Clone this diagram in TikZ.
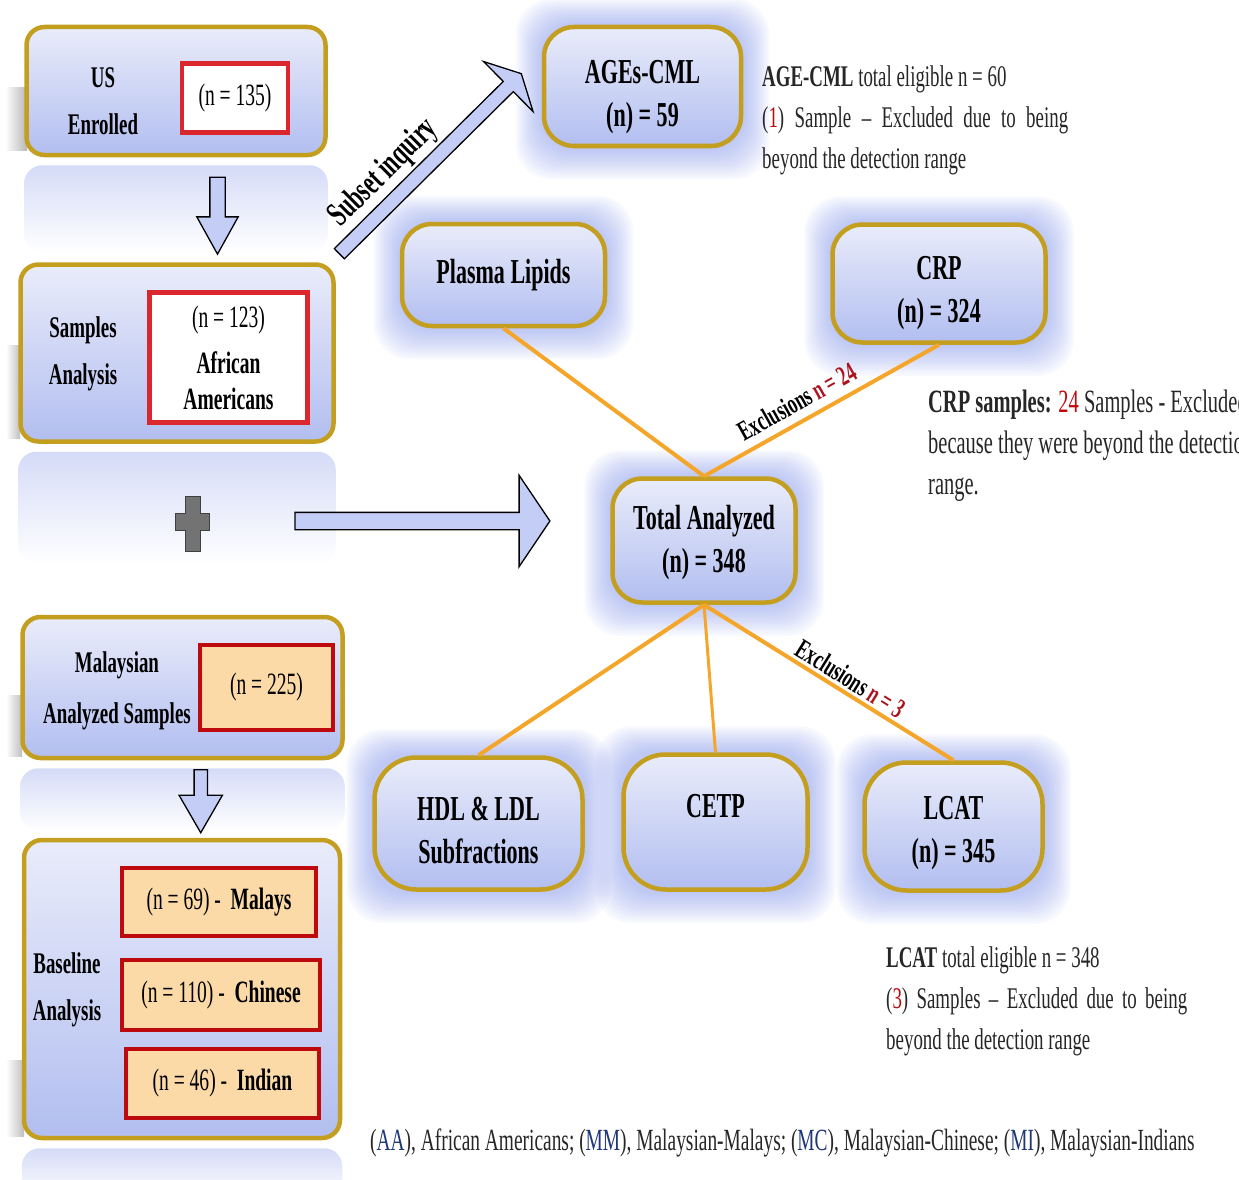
\documentclass[tikz,border=0pt]{standalone}
\usepackage{fontspec}
\setmainfont{Liberation Serif}[FakeStretch=0.63]
\usetikzlibrary{positioning}
\usetikzlibrary{calc}
\usetikzlibrary{shapes.arrows}
\usetikzlibrary{backgrounds}

\definecolor{lavtop}{RGB}{233,236,250}
\definecolor{lavbot}{RGB}{178,190,240}
\definecolor{goldline}{RGB}{196,158,30}
\definecolor{boxred}{RGB}{220,38,46}
\definecolor{darkred}{RGB}{190,10,14}
\definecolor{peach}{RGB}{251,218,168}
\definecolor{glowblue}{RGB}{125,145,232}
\definecolor{linkorange}{RGB}{245,166,42}
\definecolor{abbrblue}{RGB}{30,55,120}
\definecolor{arrowfill}{RGB}{196,205,246}
\definecolor{exred}{RGB}{170,20,30}

\newcommand{\lift}[1]{\rule{0pt}{#1}}

\tikzset{
  panel/.style={draw=goldline, line width=4.5pt, rounded corners=18pt, top color=lavtop, bottom color=lavbot},
  countbox/.style={draw=boxred, line width=4.5pt, fill=white, font=\fontsize{31}{36}\selectfont, align=center},
  ethbox/.style={draw=darkred, line width=4.5pt, fill=peach, font=\fontsize{31}{36}\selectfont},
  sidelabel/.style={font=\bfseries\fontsize{30}{47}\selectfont, align=center, inner sep=0pt},
  bubble/.style={draw=goldline, line width=4.5pt, rounded corners=30pt, top color=lavtop, bottom color=lavbot, font=\bfseries\fontsize{35}{43}\selectfont, align=center},
  blockarrow/.style={single arrow, draw=black, line width=1.3pt, fill=arrowfill, inner xsep=0pt},
  plusmark/.style={fill=black!55, draw=black!75, line width=1pt},
  link/.style={linkorange, line width=4pt},
  exlabel/.style={font=\bfseries\fontsize{28}{30}\selectfont, text=black, inner sep=1pt},
  note/.style={font=\fontsize{30}{41}\selectfont, align=left, anchor=north west, inner sep=0pt, text=black!85},
}

\begin{document}
\begin{tikzpicture}[x=1pt, y=-1pt]
\useasboundingbox (0,0) rectangle (1239,1180);
\clip (0,0) rectangle (1239,1180);

% US cohort
\node[panel, minimum width=299pt, minimum height=128pt] (usbox) at (176,91) {};
\node[sidelabel] (uslabel) at (103,101) {US\\Enrolled};
\node[countbox, minimum width=106pt, minimum height=69pt] (usn) at (235,98) {(n = 135)};
\node[panel, minimum width=313pt, minimum height=177pt] (sampbox) at (177,353) {};
\node[sidelabel] (samplabel) at (83,353.5) {Samples\\Analysis};
\node[countbox, minimum width=158pt, minimum height=130pt] (sampn) at (228.5,357.5) {(n = 123)\\[10pt]\textbf{African}\\\textbf{Americans}};
\node[blockarrow, rotate=-90, minimum height=77pt, inner ysep=7pt, single arrow head extend=13pt, single arrow tip angle=58] (downus) at ($(usbox.south)!0.5!(sampbox.north)+(41pt,1pt)$) {};

% Malaysian cohort
\node[panel, minimum width=320pt, minimum height=141pt] (malbox) at (182.5,687.5) {};
\node[sidelabel, font=\bfseries\fontsize{30}{51}\selectfont] (mallabel) at (117,690.5) {Malaysian\\Analyzed Samples};
\node[ethbox, minimum width=133pt, minimum height=85pt] (maln) at (266.5,687.5) {(n = 225)};
\node[panel, minimum width=316pt, minimum height=298pt] (basebox) at (182,989) {};
\node[sidelabel] (baselabel) at (67,989.5) {Baseline\\Analysis};
\node[ethbox, minimum width=194pt, minimum height=68pt] (malays) at (219,902) {(n = 69) -\ \ \textbf{Malays}};
\node[ethbox, minimum width=198pt, minimum height=70pt] (chinese) at (221,995) {(n = 110) -\ \ \textbf{Chinese}};
\node[ethbox, minimum width=193pt, minimum height=69pt] (indian) at (222.5,1083.5) {(n = 46) -\ \ \textbf{Indian}};
\node[blockarrow, rotate=-90, minimum height=63pt, inner ysep=6pt, single arrow head extend=15pt, single arrow tip angle=60] (downmal) at ($(malbox.south)!0.5!(basebox.north)+(18.5pt,3.5pt)$) {};

% plus and block arrows
\draw[plusmark] (185,496) -- (200,496) -- (200,513) -- (209,513) -- (209,530) -- (200,530) -- (200,551) -- (185,551) -- (185,530) -- (175,530) -- (175,513) -- (185,513) -- cycle;
\node[blockarrow, minimum height=255pt, inner ysep=8pt, single arrow head extend=37pt, single arrow tip angle=112] (joinarrow) at (419.5,521) {};
\node[blockarrow, rotate=44.7, minimum height=256pt, inner ysep=6.5pt, single arrow head extend=28pt, single arrow tip angle=125] (subarrow) at (429,165) {};
\node[exlabel, font=\bfseries\fontsize{35}{40}\selectfont, rotate=44.7, anchor=south] (sublabel) at (396,185) {Subset inquiry};

% assays
\node[bubble, minimum width=197pt, minimum height=119pt] (ages) at (642.5,86.5) {\lift{44pt}AGEs-CML\\(n) = 59};
\node[bubble, minimum width=203pt, minimum height=102pt] (plasma) at (503.5,275) {Plasma Lipids};
\node[bubble, minimum width=213pt, minimum height=118pt] (crp) at (939,283.5) {\lift{43pt}CRP\\(n) = 324};
\node[bubble, minimum width=183pt, minimum height=124pt] (total) at (704,540.5) {\lift{28pt}Total Analyzed\\(n) = 348};
\node[bubble, rounded corners=42pt, minimum width=208pt, minimum height=132pt] (hdl) at (478.5,823.5) {\lift{37pt}HDL \& LDL\\Subfractions};
\node[bubble, rounded corners=42pt, minimum width=184pt, minimum height=135pt] (cetp) at (715.5,822) {\lift{42pt}CETP\\\phantom{(n)}};
\node[bubble, rounded corners=42pt, minimum width=178pt, minimum height=128pt] (lcat) at (953.5,826.5) {\lift{36pt}LCAT\\(n) = 345};

\draw[link] (plasma.south) -- (total.north);
\draw[link] (total.north) -- node[exlabel, pos=0.437, sloped, above=7pt] {Exclusions \textcolor{exred}{n = 24}} (crp.south);
\draw[link] (total.south) -- (hdl.north);
\draw[link, line width=3pt] (total.south) -- (cetp.north);
\draw[link] (total.south) -- node[exlabel, pos=0.557, sloped, above=2pt] {Exclusions \textcolor{exred}{n = 3}} (lcat.north);

% notes
\node[note] (agesnote) at (762,65) {\textbf{AGE-CML} total eligible n = 60\\\makebox[306pt][s]{(\textcolor{darkred}{1}) Sample -- Excluded due to being}\\beyond the detection range};
\node[note, font=\fontsize{32.5}{41}\selectfont] (crpnote) at (928,390) {\textbf{CRP samples:} \textcolor{darkred}{24} Samples - Excluded\\because they were beyond the detection\\range.};
\node[note] (lcatnote) at (886,946) {\textbf{LCAT} total eligible n = 348\\\makebox[301pt][s]{(\textcolor{darkred}{3}) Samples -- Excluded due to being}\\beyond the detection range};
\node[note, anchor=west, font=\fontsize{30.8}{36}\selectfont] (legend) at (370,1143) {(\textcolor{abbrblue}{AA}), African Americans; (\textcolor{abbrblue}{MM}), Malaysian-Malays; (\textcolor{abbrblue}{MC}), Malaysian-Chinese; (\textcolor{abbrblue}{MI}), Malaysian-Indians};

\begin{pgfonlayer}{background}
  \foreach \nd in {ages,plasma,crp,total,hdl,cetp,lcat}
    \foreach \r in {2,4,...,26}
      \fill[glowblue, opacity=0.05, rounded corners=36pt] ($(\nd.south west)+(-\r pt,-1.2*\r pt)$) rectangle ($(\nd.north east)+(\r pt,\r pt)$);
  \foreach \bx/\dep in {usbox/95,sampbox/120,malbox/70,basebox/60}
    \shade[top color=lavbot!55, bottom color=white, rounded corners=18pt] ($(\bx.south west)+(0,-8pt)$) rectangle ($(\bx.south east)+(0,-\dep pt)$);
  \shade[left color=white, right color=black!28] (5,88) rectangle (27,150);
  \shade[left color=white, right color=black!25] (6,345) rectangle (20,438);
  \shade[left color=white, right color=black!25] (6,695) rectangle (22,756);
  \shade[left color=white, right color=black!25] (6,1060) rectangle (24,1136);
\end{pgfonlayer}
\end{tikzpicture}
\end{document}
